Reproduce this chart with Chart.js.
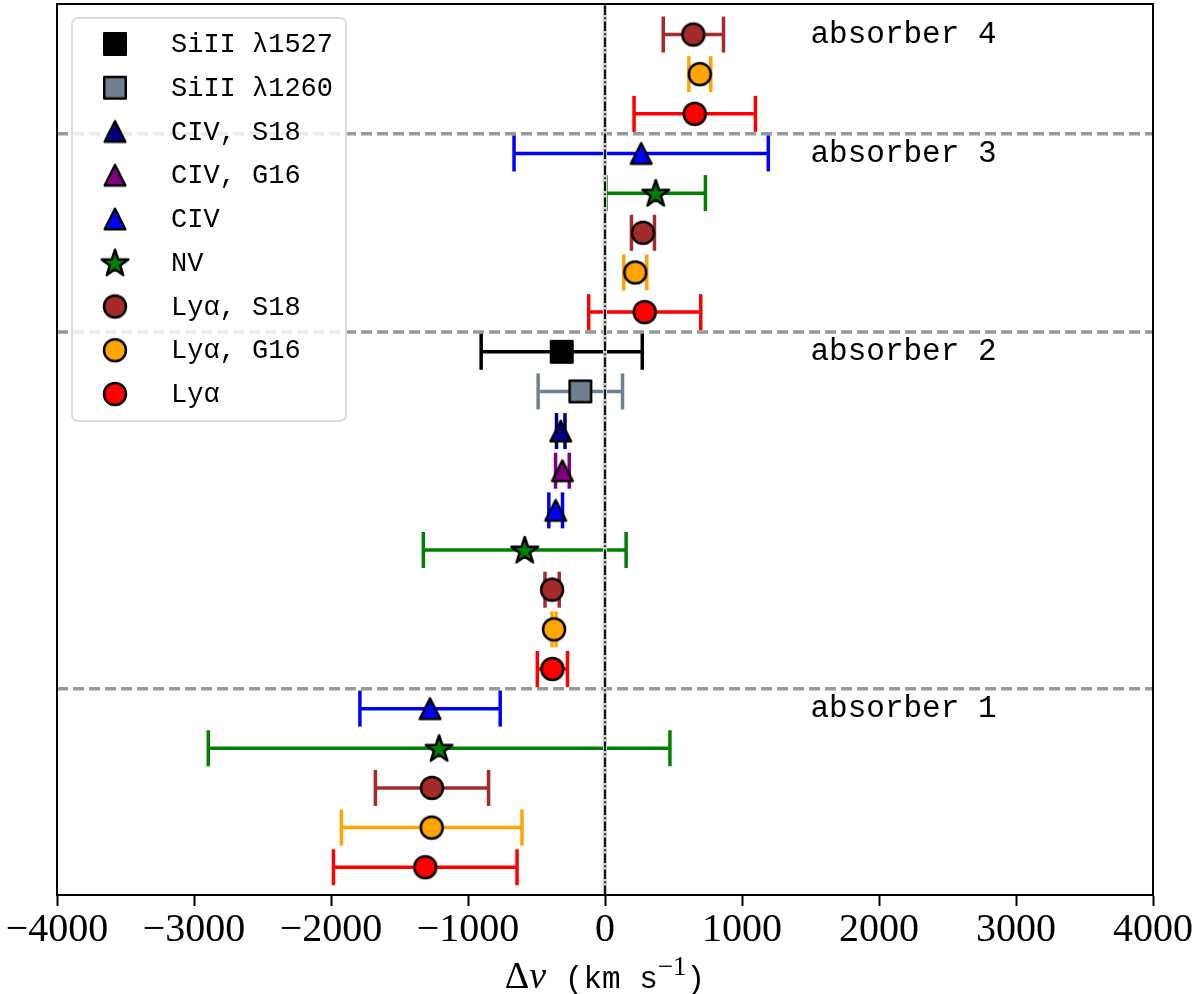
<!DOCTYPE html>
<html>
<head>
<meta charset="utf-8">
<title>Absorber velocity offsets</title>
<script src="https://cdn.jsdelivr.net/npm/chart.js@4.4.0/dist/chart.umd.min.js"></script>
<style>
  html, body { margin: 0; padding: 0; background: #fff; }
  #wrap { width: 1200px; height: 994px; }
</style>
</head>
<body>
<div id="wrap"><canvas id="chart" width="1200" height="994"></canvas></div>
<script>
// legend entries, top to bottom
const species = ['SiII λ1527', 'SiII λ1260', 'CIV, S18', 'CIV, G16', 'CIV', 'NV', 'Lyα, S18', 'Lyα, G16', 'Lyα'];
const speciesColor = ['#000000', '#708090', '#000080', '#800080', '#0000ff', '#008000', '#a52a2a', '#ffa500', '#ff0000'];
const speciesMarker = ['square', 'square', 'triangle', 'triangle', 'triangle', 'star', 'circle', 'circle', 'circle'];

// one entry per row, bottom row first (row index = y value)
const rowSpecies = [8, 7, 6, 5, 4,   8, 7, 6, 5, 4, 3, 2, 1, 0,   8, 7, 6, 5, 4,   8, 7, 6];
const dv    = [-1312, -1265, -1263, -1211, -1277,   -384, -372, -386, -586, -360, -311, -323, -180, -316,   290, 221, 277, 370, 264,   655, 692, 645];
const dvErr = [670, 659, 413, 1685, 512,   110, 15, 52, 740, 50, 50, 31, 308, 588,   409, 84, 84, 363, 928,   443, 80, 220];

const absorbers = ['absorber 1', 'absorber 2', 'absorber 3', 'absorber 4'];
const absorberTopRow = [4, 13, 18, 21];
const separators = [4.5, 13.5, 18.5];
const xTicks = [-4000, -3000, -2000, -1000, 0, 1000, 2000, 3000, 4000];

const Y_MIN = -0.7, Y_MAX = 21.77;
const LABEL_X = 1500;

// little canvases used as point styles (matplotlib-like markers with black edge)
function makeMarker(shape, fill) {
  const c = document.createElement('canvas');
  c.width = 36; c.height = 36;
  const g = c.getContext('2d');
  const m = 18;
  g.beginPath();
  if (shape === 'circle') {
    g.arc(m, m, 11, 0, Math.PI * 2);
  } else if (shape === 'square') {
    g.rect(m - 10.75, m - 10.75, 21.5, 21.5);
  } else if (shape === 'triangle') {
    g.moveTo(m, m - 10.3);
    g.lineTo(m + 10.3, m + 10.3);
    g.lineTo(m - 10.3, m + 10.3);
    g.closePath();
  } else {
    for (let k = 0; k < 10; k++) {
      const r = k % 2 ? 5.4 : 14;
      const a = -Math.PI / 2 + k * Math.PI / 5;
      const px = m + r * Math.cos(a), py = m + 1 + r * Math.sin(a);
      if (k === 0) g.moveTo(px, py); else g.lineTo(px, py);
    }
    g.closePath();
  }
  g.fillStyle = fill;
  g.fill();
  g.lineWidth = 2.5;
  g.lineJoin = 'round';
  g.strokeStyle = '#000';
  g.stroke();
  return c;
}
const markers = species.map((s, i) => makeMarker(speciesMarker[i], speciesColor[i]));

const datasets = [];

// marker datasets (drawn on top)
species.forEach((name, s) => {
  const pts = [];
  rowSpecies.forEach((sp, row) => {
    if (sp === s) pts.push({ x: dv[row], y: row });
  });
  datasets.push({
    label: name,
    data: pts,
    pointStyle: markers[s],
    pointRadius: 12,
    pointHoverRadius: 12,
    showLine: false,
    order: 0
  });
});

// zero velocity line: gray band + black dash-dot
datasets.push({
  label: 'zero band',
  data: [{ x: 0, y: Y_MIN }, { x: 0, y: Y_MAX }],
  showLine: true, pointRadius: 0,
  borderColor: '#cdcdcd', borderWidth: 4,
  order: 2
});
datasets.push({
  label: 'zero',
  data: [{ x: 0, y: Y_MIN }, { x: 0, y: Y_MAX }],
  showLine: true, pointRadius: 0,
  borderColor: '#000', borderWidth: 1.8,
  borderDash: [9.6, 2.4, 1.6, 2.4],
  order: 1
});

// error bars, one small dataset per row, caps are rotated 'line' points
rowSpecies.forEach((sp, row) => {
  const col = speciesColor[sp];
  datasets.push({
    label: 'err ' + row,
    data: [{ x: dv[row] - dvErr[row], y: row }, { x: dv[row] + dvErr[row], y: row }],
    showLine: true,
    borderColor: col, borderWidth: 3.5,
    pointStyle: 'line', pointRotation: 90,
    pointRadius: 18, pointHoverRadius: 18,
    pointBorderColor: col, pointBorderWidth: 3.5,
    order: 3
  });
});

// absorber separators
separators.forEach(yv => {
  datasets.push({
    label: 'sep',
    data: [{ x: -4000, y: yv }, { x: 4000, y: yv }],
    showLine: true, pointRadius: 0,
    borderColor: '#999999', borderWidth: 3.5,
    borderDash: [11, 5],
    order: 4
  });
});

const decor = {
  id: 'decor',
  afterDraw(chart) {
    const ctx = chart.ctx;
    const a = chart.chartArea;
    const xs = chart.scales.x, ys = chart.scales.y;
    ctx.save();

    // frame
    ctx.strokeStyle = '#000';
    ctx.lineWidth = 2;
    ctx.strokeRect(a.left, a.top, a.right - a.left, a.bottom - a.top);

    // absorber labels
    ctx.fillStyle = '#000';
    ctx.font = '31px "Liberation Mono"';
    ctx.textAlign = 'left';
    ctx.textBaseline = 'middle';
    absorbers.forEach((t, i) => {
      ctx.fillText(t, xs.getPixelForValue(LABEL_X), ys.getPixelForValue(absorberTopRow[i]));
    });

    // legend
    const bx = 72, by = 18, bw = 274, bh = 403;
    ctx.beginPath();
    ctx.roundRect(bx, by, bw, bh, 6);
    ctx.fillStyle = 'rgba(255,255,255,0.8)';
    ctx.fill();
    ctx.strokeStyle = '#dcdcdc';
    ctx.lineWidth = 2;
    ctx.stroke();
    ctx.font = '27px "Liberation Mono"';
    ctx.fillStyle = '#000';
    species.forEach((name, i) => {
      const ly = 44 + i * 43.75;
      const img = markers[i];
      ctx.drawImage(img, 115 - img.width / 2, ly - img.height / 2);
      ctx.fillText(name, 171, ly + 1);
    });

    // x axis title: Δv (km s^-1)
    const parts = [
      { t: 'Δ', f: '38px "Liberation Serif"', dy: 0 },
      { t: 'v', f: 'italic 38px "Liberation Serif"', dy: 0 },
      { t: ' (km s', f: '31px "Liberation Mono"', dy: 0 },
      { t: '\u22121', f: '27px "Liberation Serif"', dy: -13 },
      { t: ')', f: '31px "Liberation Mono"', dy: 0 }
    ];
    let total = 0;
    parts.forEach(p => { ctx.font = p.f; p.w = ctx.measureText(p.t).width; total += p.w; });
    let cx = (a.left + a.right) / 2 - total / 2;
    ctx.textBaseline = 'alphabetic';
    parts.forEach(p => {
      ctx.font = p.f;
      ctx.fillText(p.t, cx, 988 + p.dy);
      cx += p.w;
    });
    ctx.restore();
  }
};

new Chart(document.getElementById('chart'), {
  type: 'scatter',
  data: { datasets: datasets },
  options: {
    responsive: false,
    animation: false,
    layout: { autoPadding: false, padding: { left: 57, right: 47, top: 4, bottom: 0 } },
    plugins: { legend: { display: false }, tooltip: { enabled: false } },
    scales: {
      x: {
        type: 'linear',
        min: -4000, max: 4000,
        afterBuildTicks: s => { s.ticks = xTicks.map(v => ({ value: v })); },
        afterFit: s => { s.height = 99; },
        grid: { drawOnChartArea: false, drawTicks: true, tickLength: 11, tickWidth: 2, tickColor: '#000' },
        border: { display: true, color: '#000', width: 2 },
        ticks: {
          autoSkip: false, maxRotation: 0, padding: 0,
          color: '#000',
          font: { family: '"Liberation Serif"', size: 40 },
          callback: v => (v < 0 ? '\u2212' + Math.abs(v) : String(v))
        }
      },
      y: {
        type: 'linear',
        display: false,
        min: Y_MIN, max: Y_MAX
      }
    }
  },
  plugins: [decor]
});
</script>
</body>
</html>
